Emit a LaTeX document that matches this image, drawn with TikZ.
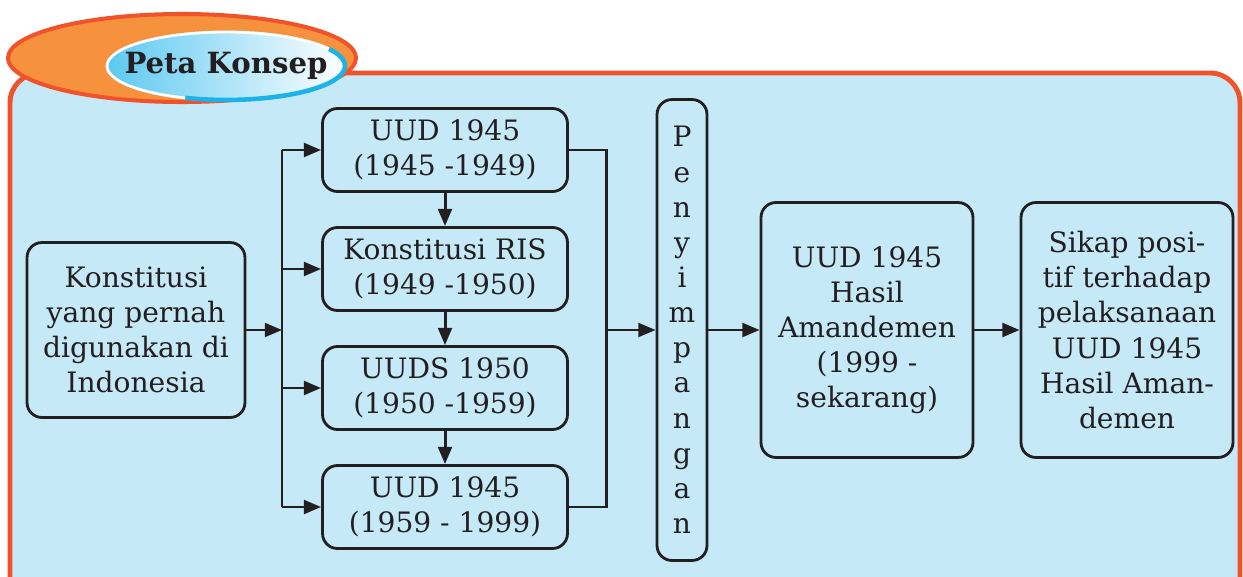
\documentclass[tikz,border=0pt]{standalone}
\usepackage{fontspec}
\setmainfont{DejaVu Serif}
\usetikzlibrary{arrows.meta}
\definecolor{PanelBlue}{HTML}{C6E9F8}
\definecolor{PanelRed}{HTML}{F0532A}
\definecolor{TabOrange}{HTML}{F6913E}
\definecolor{TabBlue}{HTML}{5CC9F1}
\definecolor{TabCyan}{HTML}{1BB3E8}
\definecolor{Ink}{HTML}{231F20}
\newcommand\PanelTab[3]{%
    \draw[PanelRed, fill=TabOrange, line width=2.3pt] (#1) ellipse [x radius=174, y radius=44];
    \shade[left color=TabBlue, right color=white] (#2) ellipse [x radius=119, y radius=34];
    \draw[white, line width=1.6pt] (#2) ellipse [x radius=119, y radius=34];
    \draw[TabCyan, line width=2.6pt] (#2) ++(-40.7,31.9) arc[start angle=110, end angle=-30, x radius=119, y radius=34];
    \node[font=\fontsize{16.6}{20}\selectfont\bfseries, text=Ink] (Title) at (#2) {#3};
}
\tikzset{
    box/.style={draw=Ink, line width=1.6pt, rounded corners=8.5pt, fill=PanelBlue, text=Ink,
        align=center, inner sep=0pt, font=\fontsize{16}{20}\selectfont},
    colbox/.style={box, minimum width=4.9cm, minimum height=1.66cm},
    bigbox/.style={box, minimum width=4.24cm, minimum height=5.1cm},
    link/.style={draw=Ink, line width=1.7pt},
    arr/.style={link, -{Triangle[length=9.8pt,width=7.8pt]}},
}

\begin{document}
\begin{tikzpicture}[x=0.02cm,y=-0.02cm]
    \useasboundingbox (0,0) rectangle (1243,577);
    \clip (0,0) rectangle (1243,577);
    \draw[PanelRed, fill=PanelBlue, line width=2.8pt, rounded corners=17pt] (10,73) rectangle (1240,620);
    \PanelTab{182,58}{226,66}{Peta Konsep}

    \node[box, minimum width=4.36cm, minimum height=3.5cm] (Konst) at (136,330)
        {Konstitusi\\yang pernah\\digunakan di\\Indonesia};
    \node[colbox] (UudA) at (445,150) {UUD 1945\\(1945 -1949)};
    \node[colbox] (Ris)  at (445,269) {Konstitusi RIS\\(1949 -1950)};
    \node[colbox] (Uuds) at (445,388) {UUDS 1950\\(1950 -1959)};
    \node[colbox] (UudB) at (445,507) {UUD 1945\\(1959 - 1999)};
    \node[box, minimum width=1cm, minimum height=9.22cm] (Peny) at (682,330)
        {P\\e\\n\\y\\i\\m\\p\\a\\n\\g\\a\\n};
    \node[bigbox] (Hasil) at (867,330) {UUD 1945\\Hasil\\Amandemen\\(1999 -\\sekarang)};
    \node[bigbox] (Sikap) at (1127,330) {Sikap posi-\\tif terhadap\\pelaksanaan\\UUD 1945\\Hasil Aman-\\demen};

    \coordinate (BusL) at (282,330);
    \coordinate (BusR) at (606,330);
    \begin{scope} % left bus
        \draw[arr] (Konst) -- (Konst -| BusL);
        \draw[link] (UudA -| BusL) -- (UudB -| BusL);
        \foreach \b in {UudA,Ris,Uuds,UudB}
            \draw[arr] (\b -| BusL) -- (\b.west);
    \end{scope}
    \begin{scope} % down the column
        \draw[arr] (UudA) -- (Ris);
        \draw[arr] (Ris) -- (Uuds);
        \draw[arr] (Uuds) -- (UudB);
    \end{scope}
    \begin{scope} % right bus
        \draw[link] (UudA.east) -- (UudA -| BusR) -- (UudB -| BusR) -- (UudB.east);
        \draw[arr] (BusR) -- (Peny);
        \draw[arr] (Peny) -- (Hasil);
        \draw[arr] (Hasil) -- (Sikap);
    \end{scope}
\end{tikzpicture}
\end{document}
